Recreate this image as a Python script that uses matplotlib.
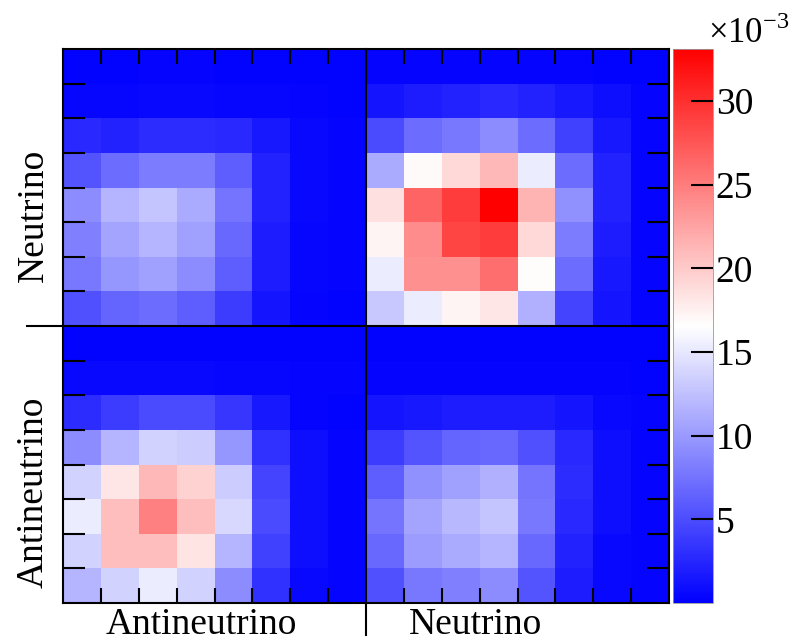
# Matriz de correlacion neutrino / antineutrino (16x16), escala x10^-3
import numpy as np
import matplotlib.pyplot as plt
from matplotlib.lines import Line2D

plt.rcParams['font.family'] = ['Liberation Serif', 'DejaVu Serif']
plt.rcParams['mathtext.fontset'] = 'custom'
plt.rcParams['mathtext.rm'] = 'Liberation Serif'

# valores en unidades de 1e-3, filas de arriba hacia abajo
# cuadrante superior izquierdo: filas Neutrino, columnas Antineutrino
nu_anu = [
    [0.2, 0.2, 0.3, 0.3, 0.2, 0.2, 0.2, 0.2],
    [0.5, 0.5, 0.6, 0.6, 0.5, 0.4, 0.3, 0.2],
    [2.6, 2.3, 2.9, 2.9, 2.6, 1.6, 0.6, 0.3],
    [5.5, 7.1, 8.1, 8.1, 6.2, 2.3, 0.6, 0.3],
    [9.1, 11.7, 12.7, 11.0, 7.5, 2.3, 0.6, 0.3],
    [8.4, 10.7, 11.7, 10.4, 6.8, 1.9, 0.5, 0.3],
    [7.8, 9.7, 10.4, 9.1, 6.2, 1.9, 0.4, 0.3],
    [5.2, 6.5, 7.1, 6.2, 3.9, 1.3, 0.3, 0.2],
]
# cuadrante superior derecho: filas Neutrino, columnas Neutrino
nu_nu = [
    [0.3, 0.3, 0.3, 0.3, 0.3, 0.3, 0.2, 0.2],
    [1.3, 1.9, 2.3, 2.6, 2.3, 1.6, 1.0, 0.3],
    [4.9, 7.1, 7.8, 9.1, 7.1, 4.2, 1.6, 0.3],
    [11.0, 16.9, 19.1, 21.1, 15.3, 7.1, 2.3, 0.3],
    [18.5, 26.6, 29.2, 33.1, 21.4, 9.4, 2.3, 0.3],
    [17.2, 24.0, 28.6, 29.2, 19.1, 8.1, 1.9, 0.3],
    [15.3, 23.7, 23.7, 25.9, 16.7, 7.1, 1.6, 0.3],
    [13.0, 15.3, 17.2, 18.2, 11.4, 4.5, 1.3, 0.3],
]
# cuadrante inferior izquierdo: filas Antineutrino, columnas Antineutrino
anu_anu = [
    [0.2, 0.2, 0.2, 0.2, 0.2, 0.2, 0.2, 0.2],
    [0.6, 0.6, 0.6, 0.6, 0.5, 0.4, 0.3, 0.3],
    [2.9, 3.9, 4.9, 4.9, 3.6, 1.6, 0.3, 0.2],
    [9.1, 11.7, 13.6, 13.3, 9.7, 3.2, 1.0, 0.3],
    [13.6, 18.2, 21.1, 19.5, 13.3, 4.5, 1.0, 0.3],
    [15.3, 20.8, 24.7, 20.8, 14.0, 4.9, 1.0, 0.3],
    [13.6, 20.8, 20.8, 18.3, 11.7, 4.2, 1.0, 0.3],
    [11.7, 13.6, 15.3, 13.6, 9.1, 3.2, 0.6, 0.3],
]
# cuadrante inferior derecho: filas Antineutrino, columnas Neutrino
anu_nu = [
    [0.2, 0.2, 0.2, 0.2, 0.2, 0.2, 0.2, 0.2],
    [0.3, 0.3, 0.3, 0.3, 0.3, 0.3, 0.3, 0.2],
    [1.3, 1.6, 1.9, 1.9, 1.9, 1.3, 0.6, 0.3],
    [3.9, 5.5, 6.5, 6.8, 5.2, 2.6, 1.0, 0.3],
    [6.2, 9.4, 10.4, 11.4, 7.5, 2.9, 1.0, 0.3],
    [7.5, 10.7, 12.0, 12.7, 7.8, 2.6, 1.0, 0.3],
    [6.8, 10.1, 11.0, 11.7, 6.8, 2.3, 0.6, 0.3],
    [5.2, 7.8, 8.4, 9.1, 5.5, 1.9, 0.6, 0.3],
]
col_labels = ["Antineutrino", "Neutrino"]
row_labels = ["Neutrino", "Antineutrino"]
cbar_ticks = [5, 10, 15, 20, 25, 30]
z_min, z_max = 0.0, 33.1

matriz = np.block([[np.array(nu_anu), np.array(nu_nu)],
                   [np.array(anu_anu), np.array(anu_nu)]])
n = matriz.shape[0]

fig = plt.figure(figsize=(7.91, 6.42), dpi=100)
ax = fig.add_axes([63/791, 1 - 603/642, 606/791, 554/642])
cax = fig.add_axes([673/791, 1 - 603/642, 40/791, 554/642])

edges = np.arange(n + 1)
mesh = ax.pcolormesh(edges, edges, matriz, cmap='bwr', vmin=z_min, vmax=z_max)
ax.set_xlim(0, n)
ax.set_ylim(n, 0)

for s in ax.spines.values():
    s.set_linewidth(1.5)

ticks = [i for i in range(1, n) if i != n // 2]
ax.set_xticks(ticks)
ax.set_yticks(ticks)
ax.tick_params(axis='x', direction='in', length=10.5, width=1.5,
               top=True, bottom=True, labelbottom=False)
ax.tick_params(axis='y', direction='in', length=16, width=1.5,
               left=True, right=True, labelleft=False)

# lineas divisorias entre cuadrantes
ax.add_line(Line2D([-0.059, 1.0], [0.5, 0.5], transform=ax.transAxes,
                   color='black', lw=1.5, clip_on=False))
ax.add_line(Line2D([0.5, 0.5], [1.0, -0.058], transform=ax.transAxes,
                   color='black', lw=1.5, clip_on=False))

ax.text(0.228, -0.056, col_labels[0], transform=ax.transAxes, fontsize=27,
        ha='center', va='baseline')
ax.text(0.681, -0.056, col_labels[1], transform=ax.transAxes, fontsize=27,
        ha='center', va='baseline')
ax.text(-0.033, 0.699, row_labels[0], transform=ax.transAxes, fontsize=27,
        ha='center', va='baseline', rotation=90, rotation_mode='anchor')
ax.text(-0.033, 0.200, row_labels[1], transform=ax.transAxes, fontsize=27,
        ha='center', va='baseline', rotation=90, rotation_mode='anchor')

cb = fig.colorbar(mesh, cax=cax)
cb.set_ticks(cbar_ticks)
cb.ax.tick_params(direction='in', length=16, width=1.5, pad=2, labelsize=27)
cb.outline.set_linewidth(0.6)
cb.outline.set_edgecolor('0.6')
fig.text(708/791, 1 - 43/642, r'$\times$10$^{\mathrm{-3}}$', fontsize=25,
         ha='left', va='baseline')

fig.savefig("out.png", dpi=100)
